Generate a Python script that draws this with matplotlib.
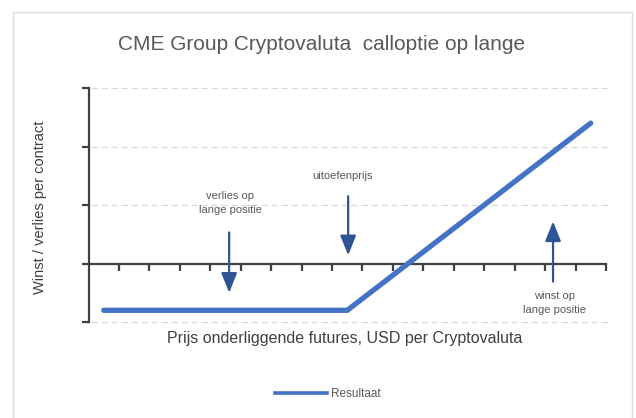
import matplotlib
matplotlib.use("Agg")
import matplotlib.pyplot as plt
from matplotlib.lines import Line2D

plt.rcParams['font.family'] = ['Liberation Sans', 'DejaVu Sans']

# payoff of the long call (x = futures price, y = result per contract)
prijs = [0.5, 8.5, 16.5]
resultaat = [-0.8, -0.8, 2.4]

x_ticks = list(range(1, 18))
y_ticks = [-1, 0, 1, 2, 3]

# annotations: (text, text position, arrow start, arrow end)
notities = [
    ("verlies op\nlange positie", (4.65, 1.04), (4.62, 0.53), (4.62, -0.5)),
    ("uitoefenprijs", (8.35, 1.49), (8.53, 1.15), (8.53, 0.14)),
    ("winst op\nlange positie", (15.3, -0.68), (15.26, -0.31), (15.26, 0.72)),
]

lijn_kleur = '#4472c4'
pijl_kleur = '#2f5496'
as_kleur = '#404040'
tekst_kleur = '#595959'

fig = plt.figure(figsize=(6.36, 4.18), dpi=100)
ax = fig.add_axes([88.5 / 636, 96 / 418, 517.5 / 636, 234 / 418])

ax.plot(prijs, resultaat, color=lijn_kleur, lw=3.8, solid_capstyle='round',
        solid_joinstyle='miter', zorder=3)

ax.set_xlim(0, 17)
ax.set_ylim(-1, 3)
ax.set_xticks(x_ticks)
ax.set_yticks(y_ticks)
ax.set_xticklabels([])
ax.set_yticklabels([])

for s in ['top', 'right']:
    ax.spines[s].set_visible(False)
ax.spines['bottom'].set_position(('data', 0))
for s in ['left', 'bottom']:
    ax.spines[s].set_color(as_kleur)
    ax.spines[s].set_linewidth(1.6)
ax.tick_params(axis='both', direction='out', length=5, width=1.6, color=as_kleur)

for yv in [-1, 1, 2, 3]:
    ax.axhline(yv, xmin=0.005, xmax=1.004, color='#d9d9d9', lw=0.9,
               dashes=(5, 3), zorder=1, clip_on=False)

for tekst, tpos, start, eind in notities:
    ax.text(tpos[0], tpos[1], tekst, ha='center', va='center', fontsize=8,
            color=tekst_kleur, linespacing=1.5)
    ax.annotate('', xy=eind, xytext=start,
                arrowprops=dict(arrowstyle='-|>,head_length=1.2,head_width=0.48',
                                color=pijl_kleur, lw=1.6, shrinkA=0, shrinkB=0))

fig.text(322 / 636, 1 - 45 / 418, 'CME Group Cryptovaluta  calloptie op lange',
         ha='center', va='center', fontsize=15, color=tekst_kleur)
fig.text(40 / 636, 1 - 207 / 418, 'Winst / verlies per contract', rotation=90,
         ha='center', va='center', fontsize=10.5, color=as_kleur)
fig.text(345 / 636, 1 - 338 / 418,
         'Prijs onderliggende futures, USD per Cryptovaluta',
         ha='center', va='center', fontsize=11.5, color=as_kleur)

handle = Line2D([], [], color=lijn_kleur, lw=2.6)
fig.legend([handle], ['Resultaat'], loc='center',
           bbox_to_anchor=(328 / 636, 1 - 394 / 418), frameon=False,
           fontsize=8.5, handlelength=4.4, handletextpad=0.3,
           labelcolor=tekst_kleur)

# light frame around the chart area
rand = dict(color='#dedede', lw=1.0)
fig.add_artist(Line2D([13 / 636, 13 / 636], [0, 1 - 12 / 418], **rand))
fig.add_artist(Line2D([632 / 636, 632 / 636], [0, 1 - 12 / 418], **rand))
fig.add_artist(Line2D([13 / 636, 632 / 636], [1 - 12 / 418, 1 - 12 / 418], **rand))

fig.savefig('out.png', dpi=100)
